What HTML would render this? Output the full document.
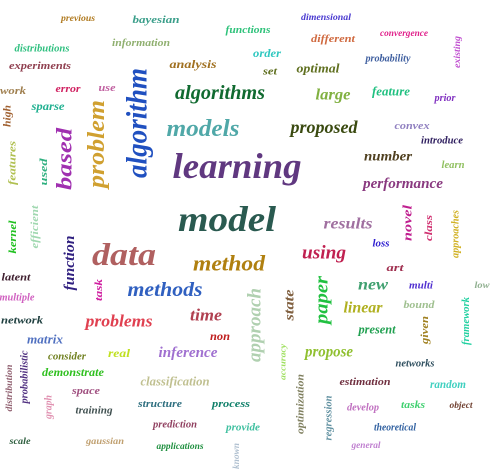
<!DOCTYPE html>
<html><head><meta charset="utf-8"><style>
html,body{margin:0;padding:0;background:#fff;width:494px;height:469px;overflow:hidden}
svg text{font-family:"Liberation Serif",serif;font-style:italic;font-weight:bold}
</style></head><body>
<svg id="cloud" width="494" height="469" viewBox="0 0 494 469" xmlns="http://www.w3.org/2000/svg"></svg>
<script>
const words = ["previous","bayesian","functions","dimensional","different","convergence","existing","distributions","information","order","probability","experiments","analysis","set","optimal","work","error","use","algorithm","algorithms","large","feature","prior","high","sparse","problem","based","models","proposed","convex","introduce","features","used","learning","number","learn","performance","model","results","novel","class","approaches","kernel","efficient","data","loss","using","method","function","art","latent","task","methods","new","multi","low","multiple","approach","state","paper","linear","bound","framework","network","time","problems","present","given","non","matrix","propose","accuracy","real","consider","inference","probabilistic","networks","distribution","demonstrate","classification","estimation","random","space","graph","structure","process","optimization","regression","develop","tasks","object","training","prediction","provide","theoretical","scale","gaussian","applications","general","known"];
const L = [
[78,18,34,9,"#b07a20",0],[156,20,47,11,"#3a9e8a",0],[248,30,45,11,"#2ec27a",0],[326,17,50,9,"#4a3ad0",0],[333,39,44,11,"#d06a40",0],[404,33,48,9,"#e0208a",0],[457,52,32,9,"#c050d0",1],
[42,49,55,10,"#30c080",0],[141,43,58,11,"#90b070",0],[267,53,28,12,"#30c8c0",0],[388,59,45,10,"#4060a0",0],[40,66,62,11,"#904050",0],[193,64,47,12,"#a07020",0],[270,72,14,10,"#607020",0],[318,68,43,13,"#607020",0],
[13,91,26,11,"#a08050",0],[68,89,25,11,"#d02060",0],[107,88,17,11,"#c060a0",0],[137,123,110,30,"#2050c0",1],[220,93,90,20,"#106a30",0],[333,95,35,16,"#80b040",0],[391,91,38,13,"#20c080",0],[445,98,21,11,"#8030c0",0],
[8,116,22,10,"#a06030",1],[48,106,33,12,"#20b090",0],[97,144,88,24,"#d0a030",1],[64,159,62,22,"#a030b0",1],[203,129,73,24,"#50a8a8",0],[324,127,67,18,"#3a4a10",0],[412,126,35,11,"#9080c0",0],[442,141,42,10,"#302060",0],
[13,163,44,10,"#b0c050",1],[44,172,27,11,"#30b080",1],[237,166,129,36,"#603880",0],[388,157,48,14,"#504020",0],[453,165,23,11,"#90c060",0],[403,184,80,15,"#8a3a80",0],[227,219,98,36,"#2a5a50",0],[348,224,49,16,"#a070a0",0],
[407,223,36,13,"#c02090",1],[429,228,26,11,"#d03070",1],[456,234,48,10,"#d0b020",1],[13,237,33,11,"#20c020",1],[35,227,43,11,"#a0d8b0",1],[124,254,64,32,"#b06060",0],[381,244,17,10,"#3020d0",0],[324,253,44,19,"#c02050",0],[229,263,72,22,"#b08010",0],
[70,263,55,15,"#302080",1],[395,268,17,11,"#a03050",0],[16,278,29,10,"#402030",0],[99,290,22,11,"#d020a0",1],[165,290,75,20,"#3060c0",0],[373,285,30,16,"#40a070",0],[421,286,24,10,"#5030d0",0],[482,285,15,9,"#90b090",0],
[17,298,35,10,"#d060c0",0],[255,325,74,19,"#b0d0b0",1],[290,305,31,14,"#806040",1],[322,300,48,19,"#20c040",1],[363,308,39,16,"#b0b020",0],[419,305,31,11,"#a0c090",0],[466,321,48,11,"#20d0a0",1],[22,321,42,10,"#204040",0],
[206,315,32,17,"#b04050",0],[119,321,67,17,"#e04050",0],[377,329,37,13,"#20a050",0],[425,330,28,11,"#a08020",1],[220,336,20,12,"#c02020",0],[45,339,36,13,"#5070c0",0],[329,352,48,16,"#90c030",0],[283,362,36,8,"#a0e060",1],
[119,353,22,12,"#c0e020",0],[67,357,38,10,"#708020",0],[188,353,59,15,"#a070d0",0],[25,377,53,10,"#503080",1],[415,364,39,10,"#305060",0],[9,388,47,9,"#906070",1],[73,372,62,12,"#30c020",0],[175,381,69,13,"#c0c090",0],
[365,382,51,11,"#703040",0],[448,384,36,12,"#40d0c0",0],[86,391,28,11,"#a05080",0],[49,407,24,10,"#e090b0",1],[160,404,44,11,"#307080",0],[231,404,38,11,"#10806a",0],[301,404,60,10,"#808060",1],[329,418,45,10,"#6090a0",1],
[363,408,32,10,"#c070c0",0],[413,405,24,11,"#40d070",0],[461,405,23,9,"#704030",0],[94,411,37,10,"#405050",0],[175,425,44,10,"#904060",0],[243,428,34,10,"#40c0a0",0],[395,428,42,10,"#3060a0",0],
[20,441,21,9,"#306040",0],[105,441,38,9,"#c0a070",0],[180,446,47,9,"#209040",0],[366,445,29,9,"#c080d0",0],[236,456,26,9,"#b0c0d0",1]
];
const svg = document.getElementById('cloud');
const NS = "http://www.w3.org/2000/svg";
for (let i = 0; i < words.length; i++) {
  const d = L[i];
  const t = document.createElementNS(NS, 'text');
  
  
  t.setAttribute('text-anchor', 'middle');
  t.setAttribute('dominant-baseline', 'central');
  t.setAttribute('font-size', d[3]);
  t.setAttribute('fill', d[4]);
  t.setAttribute('textLength', d[2]);
  t.setAttribute('lengthAdjust', 'spacingAndGlyphs');
  t.setAttribute('transform', 'translate(' + d[0] + ',' + d[1] + ')' + (d[5] ? ' rotate(-90)' : ''));
  t.textContent = words[i];
  svg.appendChild(t);
}
</script>
</body></html>
